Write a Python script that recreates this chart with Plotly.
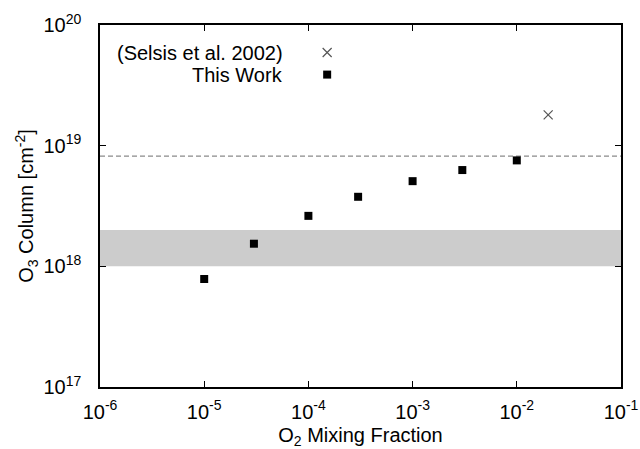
import plotly.graph_objects as go

# O3 column vs O2 mixing fraction
o2_this_work = [1e-5, 3e-5, 1e-4, 3e-4, 1e-3, 3e-3, 1e-2]
o3_this_work = [7.85e17, 1.54e18, 2.62e18, 3.77e18, 5.08e18, 6.28e18, 7.55e18]

o2_selsis = [2e-2]
o3_selsis = [1.8e19]

band_low = 1e18
band_high = 2e18
ref_line = 8.2e18

x_range = [1e-6, 1e-1]
x_tickvals = [1e-6, 1e-5, 1e-4, 1e-3, 1e-2, 1e-1]
x_ticktext = ["10<sup>-6</sup>", "10<sup>-5</sup>", "10<sup>-4</sup>",
              "10<sup>-3</sup>", "10<sup>-2</sup>", "10<sup>-1</sup>"]
y_tickvals = [1e17, 1e18, 1e19, 1e20]
y_ticktext = ["10<sup>17</sup>", "10<sup>18</sup>", "10<sup>19</sup>", "10<sup>20</sup>"]

legend_labels = ["(Selsis et al. 2002)", "This Work"]

FONT = "Liberation Sans, Arial, Helvetica, sans-serif"
FS = 20

fig = go.Figure()

# shaded band
fig.add_trace(go.Scatter(x=x_range, y=[band_low, band_low], mode="lines",
                         line=dict(width=0, color="rgba(0,0,0,0)"),
                         showlegend=False, hoverinfo="skip"))
fig.add_trace(go.Scatter(x=x_range, y=[band_high, band_high], mode="lines",
                         line=dict(width=0, color="rgba(0,0,0,0)"),
                         fill="tonexty", fillcolor="#cccccc",
                         showlegend=False, hoverinfo="skip"))

# dashed reference level
fig.add_trace(go.Scatter(x=x_range, y=[ref_line, ref_line], mode="lines",
                         line=dict(color="#8a8a8a", width=1.2, dash="5px,3px"),
                         showlegend=False, hoverinfo="skip"))

fig.add_trace(go.Scatter(x=o2_selsis, y=o3_selsis, mode="markers",
                         marker=dict(symbol="x-thin", size=9,
                                     line=dict(color="#555555", width=1.2)),
                         showlegend=False))
fig.add_trace(go.Scatter(x=o2_this_work, y=o3_this_work, mode="markers",
                         marker=dict(symbol="square", size=8, color="black"),
                         showlegend=False))

# key symbols on an overlay axis in unit coordinates
fig.add_trace(go.Scatter(x=[0.436], y=[0.924], mode="markers", xaxis="x2", yaxis="y2",
                         marker=dict(symbol="x-thin", size=9,
                                     line=dict(color="#555555", width=1.2)),
                         showlegend=False, hoverinfo="skip"))
fig.add_trace(go.Scatter(x=[0.436], y=[0.863], mode="markers", xaxis="x2", yaxis="y2",
                         marker=dict(symbol="square", size=8, color="black"),
                         showlegend=False, hoverinfo="skip"))

for label, yy in zip(legend_labels, [0.924, 0.863]):
    fig.add_annotation(x=0.356, y=yy, xref="paper", yref="paper", text=label,
                       showarrow=False, xanchor="right", yanchor="middle",
                       font=dict(family=FONT, size=FS, color="black"))

axis_common = dict(showgrid=False, zeroline=False, showline=True, linecolor="black",
                   linewidth=1.5, mirror="ticks", ticks="inside", ticklen=6,
                   tickwidth=1.2, tickcolor="black", automargin=False,
                   tickfont=dict(family=FONT, size=FS, color="black"))

fig.update_layout(
    width=640, height=449,
    margin=dict(l=100, r=19, t=25, b=62),
    paper_bgcolor="white", plot_bgcolor="white",
    font=dict(family=FONT, size=FS, color="black"),
    xaxis=dict(type="log", range=[-6, -1], tickvals=x_tickvals, ticktext=x_ticktext,
               ticklabelstandoff=6,
               title=dict(text="O<sub>2</sub> Mixing Fraction", standoff=10,
                          font=dict(family=FONT, size=FS)),
               **axis_common),
    yaxis=dict(type="log", range=[17, 20], tickvals=y_tickvals, ticktext=y_ticktext,
               ticklabelstandoff=13,
               title=dict(text="O<sub>3</sub> Column [cm<sup>-2</sup>]", standoff=4,
                          font=dict(family=FONT, size=FS)),
               **axis_common),
    xaxis2=dict(overlaying="x", range=[0, 1], visible=False),
    yaxis2=dict(overlaying="y", range=[0, 1], visible=False),
)

fig.write_html("out.html")
